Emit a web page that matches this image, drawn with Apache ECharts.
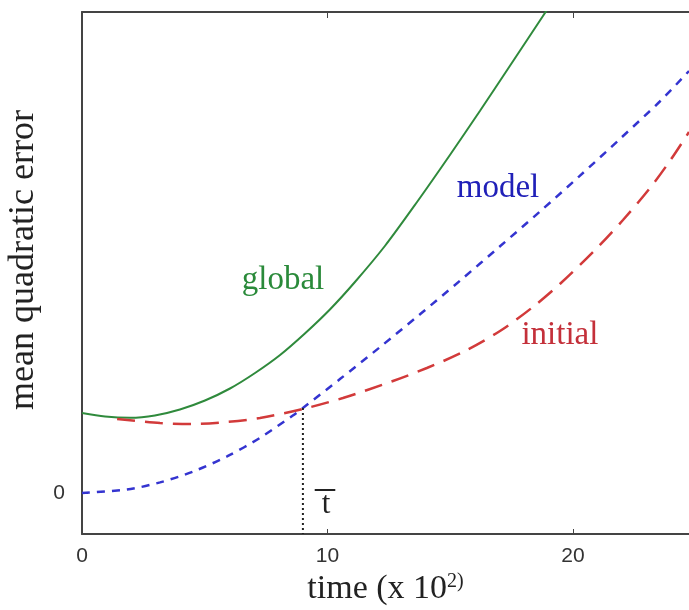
<!DOCTYPE html>
<html>
<head>
<meta charset="utf-8">
<script src="https://cdn.jsdelivr.net/npm/echarts@6/dist/echarts.min.js"></script>
<style>
  html, body { margin: 0; padding: 0; background: #fff; }
  #chart { width: 689px; height: 610px; }
</style>
</head>
<body>
<div id="chart"></div>
<script>
// curves: [time (x 10^2), error]
const globalErr = [[0, 0.80], [0.94, 0.765], [1.96, 0.752], [2.97, 0.775], [3.99, 0.835], [5.01, 0.925], [6.03, 1.045], [7.05, 1.20], [8.07, 1.38], [9.08, 1.595], [10.10, 1.835], [11.12, 2.11], [12.34, 2.47], [13.65, 2.91], [14.99, 3.38], [16.21, 3.82], [17.43, 4.27], [18.78, 4.77], [19.20, 4.93]];
const modelErr = [[0, 0], [1.83, 0.035], [3.18, 0.106], [4.52, 0.214], [5.91, 0.366], [7.25, 0.551], [8.59, 0.775], [9.00, 0.85], [10.51, 1.139], [12.14, 1.459], [13.77, 1.787], [15.40, 2.123], [17.03, 2.467], [18.66, 2.815], [20.28, 3.171], [21.91, 3.539], [23.54, 3.915], [24.73, 4.22]];
const initialErr = [[1.43, 0.74], [3.18, 0.70], [4.52, 0.69], [5.91, 0.71], [7.25, 0.75], [9.00, 0.84], [10.63, 0.95], [12.67, 1.12], [14.05, 1.25], [15.52, 1.41], [17.03, 1.62], [18.37, 1.86], [19.47, 2.09], [20.98, 2.45], [22.04, 2.73], [23.14, 3.05], [23.95, 3.32], [24.73, 3.61]];
const tBar = [[9.0, 0.85], [9.0, -0.41]];
const xTicks = [0, 10, 20];
const yTicks = [0];
const annotations = [
  { name: 'global', value: [8.19, 2.13], color: '#2a8a3a', size: 33 },
  { name: 'model', value: [16.95, 3.05], color: '#2020b8', size: 33 },
  { name: 'initial', value: [19.47, 1.58], color: '#c4303a', size: 33 },
  { name: 't', value: [9.94, -0.12], color: '#222', size: 31 },
  { name: '\u2013', value: [9.90, 0.05], color: '#222', size: 40 }
];

const serif = '"Liberation Serif", "DejaVu Serif", serif';
const sans = '"Liberation Sans", Arial, sans-serif';
const frame = { show: true, onZero: false, lineStyle: { color: '#444', width: 2 } };

const chart = echarts.init(document.getElementById('chart'), null, { renderer: 'canvas' });
chart.setOption({
  animation: false,
  backgroundColor: '#fff',
  grid: { left: 82, right: 0, top: 12, bottom: 76, outerBoundsMode: 'none', containLabel: false },
  xAxis: [
    {
      type: 'value', min: 0, max: 24.73, position: 'bottom',
      axisLine: frame,
      axisTick: { show: true, inside: true, length: 5, lineStyle: { color: '#444' }, customValues: [10, 20] },
      axisLabel: { customValues: xTicks, color: '#333', fontFamily: sans, fontSize: 21, margin: 12 },
      splitLine: { show: false },
      name: 'time (x 10{sup|2)}', nameLocation: 'middle', nameGap: 36,
      nameTextStyle: {
        color: '#222', fontFamily: serif, fontSize: 34,
        rich: { sup: { fontFamily: serif, fontSize: 20, verticalAlign: 'top', padding: [0, 0, 15, 0] } }
      }
    },
    {
      type: 'value', min: 0, max: 24.73, position: 'top',
      axisLine: frame,
      axisTick: { show: true, inside: true, length: 6, lineStyle: { color: '#444' }, customValues: [10, 20] },
      axisLabel: { show: false },
      splitLine: { show: false }
    }
  ],
  yAxis: {
    type: 'value', min: -0.41, max: 4.81,
    axisLine: frame,
    axisTick: { show: true, inside: true, length: 6, lineStyle: { color: '#444' }, customValues: yTicks },
    axisLabel: { customValues: yTicks, color: '#333', fontFamily: sans, fontSize: 21, margin: 17 },
    splitLine: { show: false },
    name: 'mean quadratic error', nameLocation: 'middle', nameGap: 40, nameRotate: 90,
    nameTextStyle: { color: '#222', fontFamily: serif, fontSize: 36, padding: [0, 0, 0, 26] }
  },
  series: [
    {
      name: 'global', type: 'line', data: globalErr, smooth: 0.3, showSymbol: false,
      lineStyle: { color: '#2f8a3c', width: 2 }
    },
    {
      name: 'model', type: 'line', data: modelErr, smooth: 0.3, showSymbol: false,
      lineStyle: { color: '#3434d0', width: 2.5, type: [8, 7] }
    },
    {
      name: 'initial', type: 'line', data: initialErr, smooth: 0.3, showSymbol: false,
      lineStyle: { color: '#d23a3a', width: 2.5, type: [18, 10] }
    },
    {
      name: 'tbar', type: 'line', data: tBar, showSymbol: false,
      lineStyle: { color: '#222', width: 2, type: [2, 3] }
    },
    {
      name: 'labels', type: 'scatter', symbolSize: 1, silent: true,
      itemStyle: { color: 'rgba(0,0,0,0)', opacity: 1 },
      data: annotations.map(a => ({
        name: a.name, value: a.value,
        label: { color: a.color, fontSize: a.size }
      })),
      label: { show: true, position: 'inside', formatter: '{b}', fontFamily: serif, opacity: 1 }
    }
  ]
});
</script>
</body>
</html>
